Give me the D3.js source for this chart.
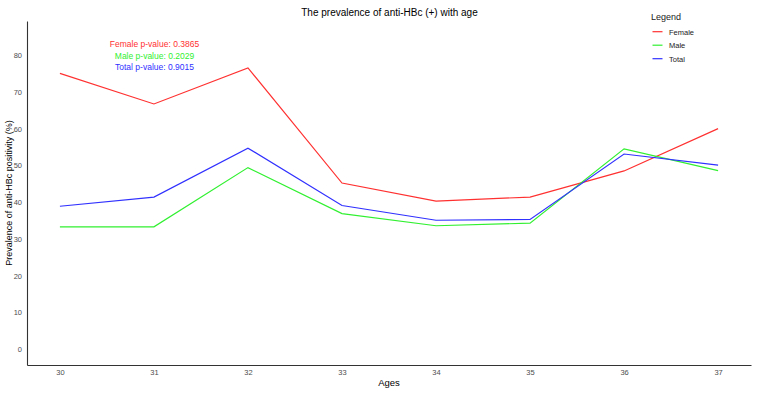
<!DOCTYPE html>
<html>
<head>
<meta charset="utf-8">
<script src="https://cdn.jsdelivr.net/npm/d3@7"></script>
<style>
  body { margin: 0; background: #fff; }
  svg { display: block; font-family: "Liberation Sans", Arial, sans-serif; }
</style>
</head>
<body>
<div id="chart"></div>
<script>
// ages on the x axis
const ages = [30, 31, 32, 33, 34, 35, 36, 37];

// prevalence (%)
const female = [75.0, 66.7, 76.5, 45.2, 40.3, 41.4, 48.5, 60.0];
const male   = [33.3, 33.3, 49.4, 36.9, 33.6, 34.3, 54.5, 48.6];
const total  = [38.9, 41.4, 54.7, 39.1, 35.1, 35.3, 53.1, 50.1];

const yTicks = [0, 10, 20, 30, 40, 50, 60, 70, 80];

const seriesNames = ["Female", "Male", "Total"];
const seriesColors = ["#ff3030", "#30f030", "#3030ff"];
const pLabels = ["Female p-value: 0.3865", "Male p-value: 0.2029", "Total p-value: 0.9015"];

const W = 760, H = 393;
const margin = { top: 21, right: 9, bottom: 28, left: 27 };

const svg = d3.select("#chart").append("svg")
  .attr("width", W)
  .attr("height", H);

const x = d3.scaleLinear()
  .domain([29.65, 37.35])
  .range([margin.left, W - margin.right]);

const y = d3.scaleLinear()
  .domain([-4.25, 89.25])
  .range([H - margin.bottom, margin.top]);

// x axis
const xAxis = svg.append("g")
  .attr("transform", `translate(0,${H - margin.bottom})`)
  .call(d3.axisBottom(x).tickValues(ages).tickSize(0).tickPadding(5).tickFormat(d3.format("d")));
xAxis.select(".domain").attr("stroke", "#333").attr("stroke-width", 1.1);
xAxis.selectAll("text").attr("fill", "#4d4d4d").style("font-size", "7.5px");

// y axis
const yAxis = svg.append("g")
  .attr("transform", `translate(${margin.left},0)`)
  .call(d3.axisLeft(y).tickValues(yTicks).tickSize(0).tickPadding(5));
yAxis.select(".domain").attr("stroke", "#333").attr("stroke-width", 1.1);
yAxis.selectAll("text").attr("fill", "#4d4d4d").style("font-size", "7.5px");

// lines
const line = d3.line()
  .x((d, i) => x(ages[i]))
  .y(d => y(d));

[female, male, total].forEach((vals, k) => {
  svg.append("path")
    .datum(vals)
    .attr("fill", "none")
    .attr("stroke", seriesColors[k])
    .attr("stroke-width", 1.2)
    .attr("d", line);
});

// title
svg.append("text")
  .attr("x", 389.5)
  .attr("y", 15.5)
  .attr("text-anchor", "middle")
  .style("font-size", "10px")
  .attr("fill", "#000")
  .text("The prevalence of anti-HBc (+) with age");

// axis titles
svg.append("text")
  .attr("x", 389)
  .attr("y", 386)
  .attr("text-anchor", "middle")
  .style("font-size", "9.5px")
  .text("Ages");

svg.append("text")
  .attr("transform", `translate(12,${(margin.top + H - margin.bottom) / 2}) rotate(-90)`)
  .attr("text-anchor", "middle")
  .style("font-size", "9px")
  .text("Prevalence of anti-HBc positivity (%)");

// p-value annotations
pLabels.forEach((t, k) => {
  svg.append("text")
    .attr("x", 154.5)
    .attr("y", 47.3 + k * 11.3)
    .attr("text-anchor", "middle")
    .attr("fill", seriesColors[k])
    .style("font-size", "8.5px")
    .text(t);
});

// legend
const legend = svg.append("g");
legend.append("text")
  .attr("x", 651)
  .attr("y", 20)
  .style("font-size", "9px")
  .attr("fill", "#222")
  .text("Legend");

seriesNames.forEach((name, k) => {
  const ly = 31.7 + k * 13.5;
  legend.append("line")
    .attr("x1", 652.5).attr("x2", 662.5)
    .attr("y1", ly).attr("y2", ly)
    .attr("stroke", seriesColors[k])
    .attr("stroke-width", 1.2);
  legend.append("text")
    .attr("x", 669)
    .attr("y", ly + 2.8)
    .style("font-size", "7.5px")
    .attr("fill", "#222")
    .text(name);
});
</script>
</body>
</html>
